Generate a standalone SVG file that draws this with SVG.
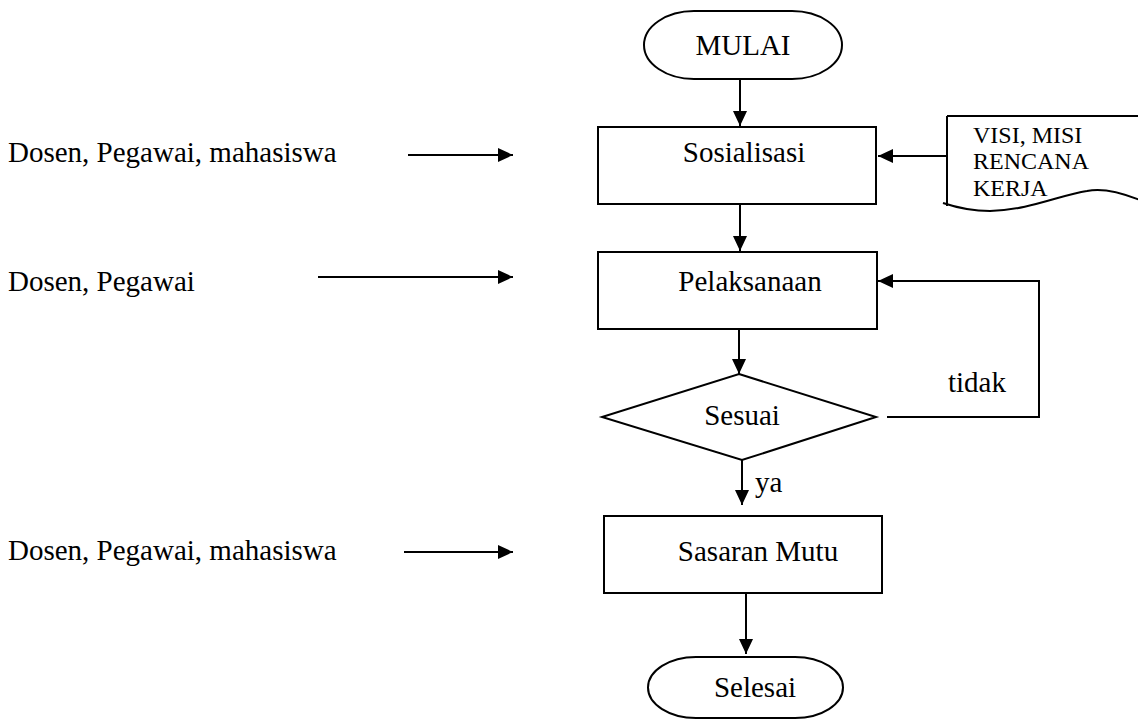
<svg xmlns="http://www.w3.org/2000/svg" width="1138" height="721" viewBox="0 0 1138 721" font-family="'Liberation Serif', serif">
<style>
text{font-family:'Liberation Serif',serif;font-size:29px;fill:#000}
.doc{font-size:24px}
.shape{fill:#fff;stroke:#000;stroke-width:2}
.edge{fill:none;stroke:#000;stroke-width:2}
</style>
<defs>
<marker id="arr" markerUnits="userSpaceOnUse" markerWidth="16" markerHeight="16" refX="15" refY="7" orient="auto">
<path d="M0,0 L15,7 L0,14 z" fill="#000"/>
</marker>
</defs>
<rect width="1138" height="721" fill="#fff"/>
<g id="connectors">
<line class="edge" x1="740" y1="79" x2="740" y2="126" marker-end="url(#arr)"/>
<line class="edge" x1="947" y1="156" x2="878" y2="156" marker-end="url(#arr)"/>
<line class="edge" x1="740" y1="204" x2="740" y2="251" marker-end="url(#arr)"/>
<line class="edge" x1="739" y1="329" x2="739" y2="374" marker-end="url(#arr)"/>
<polyline class="edge" points="887,417 1039,417 1039,281 878,281" marker-end="url(#arr)"/>
<line class="edge" x1="742" y1="460" x2="742" y2="505" marker-end="url(#arr)"/>
<line class="edge" x1="746" y1="593" x2="746" y2="654" marker-end="url(#arr)"/>
<line class="edge" x1="408" y1="155" x2="513" y2="155" marker-end="url(#arr)"/>
<line class="edge" x1="318" y1="277" x2="513" y2="277" marker-end="url(#arr)"/>
<line class="edge" x1="404" y1="552" x2="513" y2="552" marker-end="url(#arr)"/>
<text x="948" y="392">tidak</text>
<text x="755" y="492">ya</text>
</g>
<g id="input1"><text x="8" y="162">Dosen, Pegawai, mahasiswa</text></g>
<g id="input2"><text x="8" y="291">Dosen, Pegawai</text></g>
<g id="input3"><text x="8" y="560">Dosen, Pegawai, mahasiswa</text></g>
<g id="mulai">
<rect class="shape" x="644" y="11" width="198" height="68" rx="50" ry="34"/>
<text x="743" y="55" text-anchor="middle">MULAI</text>
</g>
<g id="sosialisasi">
<rect class="shape" x="598" y="127" width="278" height="77"/>
<text x="744" y="162" text-anchor="middle">Sosialisasi</text>
</g>
<g id="dokumen">
<path d="M947,116 L1140,116 L1140,200 C1115,190 1100,188 1087,191 C1060,195 1030,210 990,211 C970,211 955,207 943,203 L947,203 Z" fill="#fff"/>
<path class="edge" d="M947,116 L1140,116"/>
<path class="edge" d="M947,116 L947,206"/>
<path class="edge" d="M943,203 C955,207 970,211 990,211 C1030,210 1060,195 1087,191 C1100,188 1115,190 1140,200"/>
<text class="doc" x="973" y="143">VISI, MISI</text>
<text class="doc" x="973" y="169">RENCANA</text>
<text class="doc" x="973" y="196">KERJA</text>
</g>
<g id="pelaksanaan">
<rect class="shape" x="598" y="252" width="279" height="77"/>
<text x="750" y="291" text-anchor="middle">Pelaksanaan</text>
</g>
<g id="sesuai">
<polygon class="shape" points="739,374 876,417 742,460 602,417"/>
<text x="742" y="425" text-anchor="middle">Sesuai</text>
</g>
<g id="sasaran">
<rect class="shape" x="604" y="516" width="278" height="77"/>
<text x="758" y="561" text-anchor="middle">Sasaran Mutu</text>
</g>
<g id="selesai">
<rect class="shape" x="648" y="657" width="195" height="61" rx="48" ry="30.5"/>
<text x="755" y="697" text-anchor="middle">Selesai</text>
</g>
</svg>
